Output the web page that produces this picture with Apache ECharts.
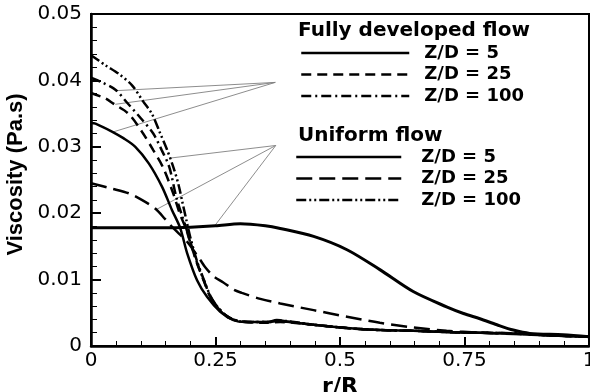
<!DOCTYPE html>
<html><head><meta charset="utf-8">
<script src="https://cdn.jsdelivr.net/npm/echarts@6/dist/echarts.min.js"></script>
<style>html,body{margin:0;padding:0;background:#fff}#c{width:590px;height:392px}</style>
</head><body><div id="c"></div>
<script>
// ---- axis ticks ----
const xTickValues = [0, 0.25, 0.5, 0.75, 1];
const xTickLabels = ['0', '0.25', '0.5', '0.75', '1'];
const yTickValues = [0, 0.01, 0.02, 0.03, 0.04, 0.05];
const yTickLabels = ['0', '0.01', '0.02', '0.03', '0.04', '0.05'];
const xAxisTitle = 'r/R';
const yAxisTitle = 'Viscosity (Pa.s)';

// ---- legend groups ----
const groupTitles = ['Fully developed flow', 'Uniform flow'];
const caseLabels = ['Z/D = 5', 'Z/D = 25', 'Z/D = 100'];

// ---- Fully developed, Z/D = 5 ----
const fd5R = [0, 0.009, 0.042, 0.065, 0.089, 0.116, 0.1425, 0.1625, 0.179, 0.193, 0.213, 0.233, 0.259, 0.286, 0.31, 0.353, 0.373, 0.40, 0.447, 0.514, 0.58, 0.647, 0.714, 0.78, 0.848, 0.92, 1.0];
const fd5V = [0.0336, 0.0335, 0.0323, 0.0313, 0.0300, 0.0275, 0.0240, 0.0205, 0.0178, 0.0140, 0.0099, 0.0074, 0.0052, 0.0039, 0.0036, 0.0036, 0.0039, 0.0036, 0.0032, 0.0027, 0.0024, 0.0023, 0.0021, 0.0020, 0.0019, 0.0016, 0.0014];

// ---- Fully developed, Z/D = 25 ----
const fd25R = [0, 0.029, 0.045, 0.075, 0.103, 0.125, 0.144, 0.165, 0.178, 0.19, 0.199, 0.2127, 0.226, 0.2394, 0.2528, 0.273, 0.30, 0.353, 0.38, 0.447, 0.514, 0.58, 0.647, 0.714, 0.78, 0.848, 0.92, 1.0];
const fd25V = [0.0381, 0.0373, 0.0365, 0.0350, 0.0322, 0.0295, 0.0270, 0.0230, 0.0200, 0.0178, 0.0157, 0.0125, 0.0099, 0.0074, 0.0059, 0.0044, 0.0037, 0.0035, 0.0036, 0.0032, 0.0027, 0.0024, 0.0023, 0.0021, 0.0020, 0.0019, 0.0016, 0.0014];

// ---- Fully developed, Z/D = 100 ----
const fd100R = [0, 0.022, 0.049, 0.073, 0.1, 0.125, 0.142, 0.157, 0.171, 0.182, 0.19, 0.199, 0.2127, 0.226, 0.2394, 0.2528, 0.273, 0.30, 0.353, 0.38, 0.447, 0.514, 0.58, 0.647, 0.714, 0.78, 0.848, 0.92, 1.0];
const fd100V = [0.0404, 0.0397, 0.0386, 0.0366, 0.0343, 0.0320, 0.0295, 0.0270, 0.0225, 0.0198, 0.0180, 0.0158, 0.0126, 0.0100, 0.0075, 0.0060, 0.0045, 0.0037, 0.0036, 0.0037, 0.0032, 0.0027, 0.0024, 0.0023, 0.0021, 0.0020, 0.0019, 0.0016, 0.0014];

// ---- Uniform, Z/D = 5 ----
const u5R = [0, 0.05, 0.10, 0.15, 0.20, 0.25, 0.30, 0.35, 0.38, 0.447, 0.514, 0.58, 0.647, 0.714, 0.748, 0.781, 0.815, 0.848, 0.881, 0.948, 1.0];
const u5V = [0.0178, 0.0178, 0.0178, 0.0178, 0.0179, 0.0181, 0.0184, 0.0181, 0.0177, 0.0165, 0.0145, 0.0115, 0.0082, 0.0059, 0.0049, 0.0041, 0.0032, 0.0024, 0.0019, 0.0017, 0.0014];

// ---- Uniform, Z/D = 25 ----
const u25R = [0, 0.042, 0.0755, 0.102, 0.129, 0.149, 0.166, 0.193, 0.219, 0.229, 0.246, 0.265, 0.286, 0.303, 0.34, 0.38, 0.447, 0.514, 0.58, 0.647, 0.714, 0.78, 0.848, 0.92, 1.0];
const u25V = [0.0245, 0.0237, 0.0230, 0.0220, 0.0207, 0.0191, 0.0177, 0.0157, 0.0130, 0.0119, 0.0105, 0.0096, 0.0085, 0.0080, 0.0071, 0.0064, 0.0054, 0.0044, 0.0035, 0.0028, 0.0023, 0.0020, 0.0018, 0.0016, 0.0014];

// ---- Uniform, Z/D = 100 ----
const u100R = [0, 0.0287, 0.0555, 0.082, 0.105, 0.122, 0.138, 0.152, 0.166, 0.176, 0.184, 0.192, 0.199, 0.2127, 0.226, 0.2394, 0.2528, 0.273, 0.30, 0.353, 0.38, 0.447, 0.514, 0.58, 0.647, 0.714, 0.78, 0.848, 0.92, 1.0];
const u100V = [0.0438, 0.0423, 0.0410, 0.0393, 0.0368, 0.0350, 0.0322, 0.0297, 0.0268, 0.0242, 0.0215, 0.0188, 0.0165, 0.0128, 0.0101, 0.0076, 0.0060, 0.0045, 0.0037, 0.0036, 0.0038, 0.0032, 0.0027, 0.0024, 0.0023, 0.0021, 0.0020, 0.0019, 0.0016, 0.0014];

// ---- annotation pointer lines (data coordinates) ----
const fdPointerFrom = [0.37, 0.0397];
const fdPointerTo = [[0.0488, 0.03845], [0.0488, 0.0364], [0.0427, 0.0322]];
const ufPointerFrom = [0.371, 0.0302];
const ufPointerTo = [[0.159, 0.0283], [0.1324, 0.0206], [0.2494, 0.0182]];

const zip = (r, v) => r.map((x, i) => [x, v[i]]);
const fdNames = caseLabels.map(c => groupTitles[0] + ' ' + c);
const ufNames = caseLabels.map(c => groupTitles[1] + ' ' + c);

const chart = echarts.init(document.getElementById('c'));

function lineSeries(name, r, v, width, dash) {
  return {
    name: name, type: 'line', data: zip(r, v),
    showSymbol: false, symbol: 'none', smooth: 0.3,
    lineStyle: { color: '#000', width: width, type: dash, cap: 'butt' },
    itemStyle: { color: '#000' },
    z: 3
  };
}

const legendText = { fontFamily: 'DejaVu Sans', fontWeight: 'bold', fontSize: 18, color: '#000', lineHeight: 18 };

chart.setOption({
  animation: false,
  backgroundColor: '#fff',
  grid: { left: 91, top: 14, right: 1, bottom: 46, outerBoundsMode: 'none', containLabel: false,
    show: true, borderColor: '#000', borderWidth: 2, backgroundColor: 'transparent' },
  xAxis: {
    type: 'value', min: xTickValues[0], max: xTickValues[xTickValues.length - 1], interval: 0.25,
    name: xAxisTitle, nameLocation: 'middle', nameGap: 22,
    nameTextStyle: { fontFamily: 'DejaVu Sans', fontWeight: 'bold', fontSize: 22, color: '#000' },
    axisLine: { lineStyle: { color: '#000', width: 2.5 } },
    axisTick: { inside: true, length: 9, lineStyle: { color: '#000', width: 2 } },
    minorTick: { show: true, splitNumber: 5, length: 5, lineStyle: { color: '#000', width: 1 } },
    splitLine: { show: false },
    axisLabel: { margin: 5, fontFamily: 'DejaVu Sans', fontSize: 20, color: '#000', hideOverlap: false,
      formatter: v => { const i = xTickValues.findIndex(t => Math.abs(t - v) < 1e-9); return i >= 0 ? xTickLabels[i] : ''; } }
  },
  yAxis: {
    type: 'value', min: yTickValues[0], max: yTickValues[yTickValues.length - 1], interval: 0.01,
    name: yAxisTitle, nameLocation: 'middle', nameGap: 54, nameRotate: 90,
    nameTextStyle: { fontFamily: 'Liberation Sans', fontWeight: 'bold', fontSize: 22, color: '#000', padding: [0, 0, 0, 11] },
    axisLine: { lineStyle: { color: '#000', width: 2.5 } },
    axisTick: { inside: true, length: 10, lineStyle: { color: '#000', width: 2 } },
    minorTick: { show: true, splitNumber: 5, length: 6, lineStyle: { color: '#000', width: 1 } },
    splitLine: { show: false },
    axisLabel: { margin: 9, fontFamily: 'DejaVu Sans', fontSize: 20, color: '#000',
      formatter: v => { const i = yTickValues.findIndex(t => Math.abs(t - v) < 1e-9); return i >= 0 ? yTickLabels[i] : ''; } }
  },
  legend: [
    { data: fdNames, orient: 'vertical', left: 300, top: 44, itemWidth: 108, itemHeight: 18, itemGap: 3.5, padding: 0,
      selectedMode: false, formatter: n => n.replace(groupTitles[0] + ' ', ''),
      textStyle: Object.assign({ padding: [0, 0, 0, 10] }, legendText), itemStyle: { opacity: 0 },
      lineStyle: { width: 2.5 } },
    { data: ufNames, orient: 'vertical', left: 295, top: 148, itemWidth: 105, itemHeight: 18, itemGap: 3.5, padding: 0,
      selectedMode: false, formatter: n => n.replace(groupTitles[1] + ' ', ''),
      textStyle: Object.assign({ padding: [0, 0, 0, 15] }, legendText), itemStyle: { opacity: 0 },
      lineStyle: { width: 2.5 } }
  ],
  graphic: [
    { type: 'text', left: 298, top: 21, style: { text: groupTitles[0], font: 'bold 20px "DejaVu Sans"', fill: '#000' } },
    { type: 'text', left: 298, top: 126, style: { text: groupTitles[1], font: 'bold 20px "DejaVu Sans"', fill: '#000' } }
  ],
  series: [
    lineSeries(fdNames[0], fd5R, fd5V, 2.5, 'solid'),
    lineSeries(fdNames[1], fd25R, fd25V, 2.5, [10, 6]),
    lineSeries(fdNames[2], fd100R, fd100V, 2.5, [10, 4, 2, 4]),
    lineSeries(ufNames[0], u5R, u5V, 3, 'solid'),
    lineSeries(ufNames[1], u25R, u25V, 2.5, [16, 7]),
    lineSeries(ufNames[2], u100R, u100V, 2.5, [10, 3, 2, 3, 2, 3]),
    {
      name: 'pointers', type: 'lines', coordinateSystem: 'cartesian2d', silent: true, z: 2,
      lineStyle: { color: '#808080', width: 0.9, opacity: 1, curveness: 0 },
      data: fdPointerTo.map(p => ({ coords: [fdPointerFrom, p] })).concat(ufPointerTo.map(p => ({ coords: [ufPointerFrom, p] })))
    }
  ]
});
</script></body></html>
